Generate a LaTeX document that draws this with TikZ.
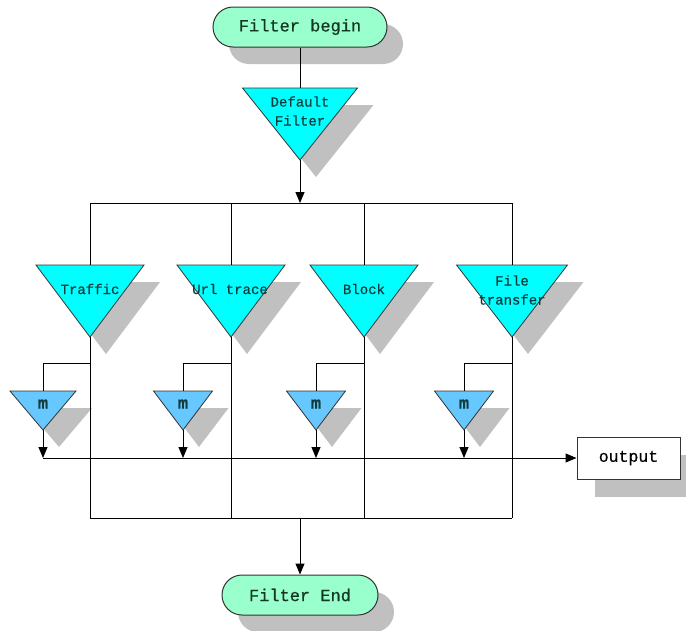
\documentclass[tikz,border=0pt]{standalone}
\usepackage{fontspec}
\setmonofont[FakeBold=0.6]{Liberation Mono}
\usetikzlibrary{arrows.meta,shapes.misc,shadows}
\definecolor{boxgreen}{RGB}{153,255,204}
\definecolor{tricyan}{RGB}{0,255,255}
\definecolor{mblue}{RGB}{102,200,255}
\definecolor{shadegray}{RGB}{192,192,192}
\definecolor{inkteal}{RGB}{15,60,60}
\definecolor{inkgreen}{RGB}{20,55,35}

% name, x, top y, half width, height, fill
\newcommand{\filtertri}[6]{%
  \coordinate (#1-top) at (#2,#3);
  \coordinate (#1-left) at (#2-#4,#3);
  \coordinate (#1-right) at (#2+#4,#3);
  \coordinate (#1-apex) at (#2,#3+#5);
  \fill[shadegray] ([shift={(16,17)}]#1-left) -- ([shift={(16,17)}]#1-right) -- ([shift={(16,17)}]#1-apex) -- cycle;
  \filldraw[fill=#6,draw=black!80,line width=0.8pt] (#1-left) -- (#1-right) -- (#1-apex) -- cycle;
}

\begin{document}
\begin{tikzpicture}[x=1pt,y=-1pt,line width=1pt,
    termbox/.style={rounded rectangle,draw=black!80,fill=boxgreen,minimum height=40pt,inner sep=0pt,
      font=\ttfamily\fontsize{17}{20}\selectfont,text=inkgreen,
      drop shadow={shadow xshift=16pt,shadow yshift=-17pt,fill=shadegray,opacity=1}},
    outbox/.style={rectangle,draw=black!80,fill=white,minimum width=103pt,minimum height=42pt,inner sep=0pt,
      font=\ttfamily\fontsize{16.5}{20}\selectfont,
      drop shadow={shadow xshift=18pt,shadow yshift=-18pt,fill=shadegray,opacity=1}},
    tritext/.style={font=\ttfamily\fontsize{14}{19}\selectfont,align=center,text=inkteal,inner sep=0pt},
    mtext/.style={font=\ttfamily\bfseries\fontsize{17}{18}\selectfont,text=inkteal,inner sep=0pt},
    flow/.style={-{Triangle[length=11pt,width=9pt]}}]
  \useasboundingbox (0,0) rectangle (686,630);

  \node[termbox,minimum width=174pt] (begin) at (300,27) {Filter begin};
  \filtertri{deflt}{300}{88}{57.5}{72}{tricyan}
  \filtertri{traffic}{90}{265}{54}{72}{tricyan}
  \filtertri{url}{231}{265}{54}{72}{tricyan}
  \filtertri{block}{364}{265}{54}{72}{tricyan}
  \filtertri{file}{512}{265}{55.5}{72}{tricyan}
  \filtertri{tm}{43}{391}{33}{39}{mblue}
  \filtertri{um}{183}{391}{29.5}{39}{mblue}
  \filtertri{bm}{316}{391}{29.5}{39}{mblue}
  \filtertri{fm}{464}{391}{29.5}{39}{mblue}
  \node[outbox] (output) at (628.5,458) {output};
  \node[termbox,minimum width=156pt] (end) at (300,595) {Filter End};

  \node[tritext] (defltlabel) at (300,111) {Default\\Filter};
  \node[tritext] (trafficlabel) at (90,289) {Traffic};
  \node[tritext] (urllabel) at (230,289) {Url trace};
  \node[tritext] (blocklabel) at (364,289) {Block};
  \node[tritext] (filelabel) at (512,290) {File\\transfer};
  \foreach \m in {tm,um,bm,fm}
    \node[mtext] (\m-label) at ([yshift=-13pt]\m-top) {m};

  \coordinate (topbus) at (300,203);
  \coordinate (botbus) at (300,518);
  \coordinate (tapline) at (0,363);

  \draw (begin) -- (deflt-top);
  \draw[flow] (deflt-apex) -- (topbus);
  \draw (traffic-top |- topbus) -- (file-top |- topbus);
  \draw (traffic-apex |- botbus) -- (file-apex |- botbus);
  \foreach \f/\m in {traffic/tm,url/um,block/bm,file/fm} {
    \draw (\f-top |- topbus) -- (\f-top);
    \draw (\f-apex) -- (\f-apex |- botbus);
    \draw (\f-apex |- tapline) -| (\m-top);
    \draw[flow] (\m-apex) -- (\m-apex |- output);
  }
  \draw[flow] (tm-apex |- output) -- (output);
  \draw[flow] (botbus) -- (end);
\end{tikzpicture}
\end{document}
